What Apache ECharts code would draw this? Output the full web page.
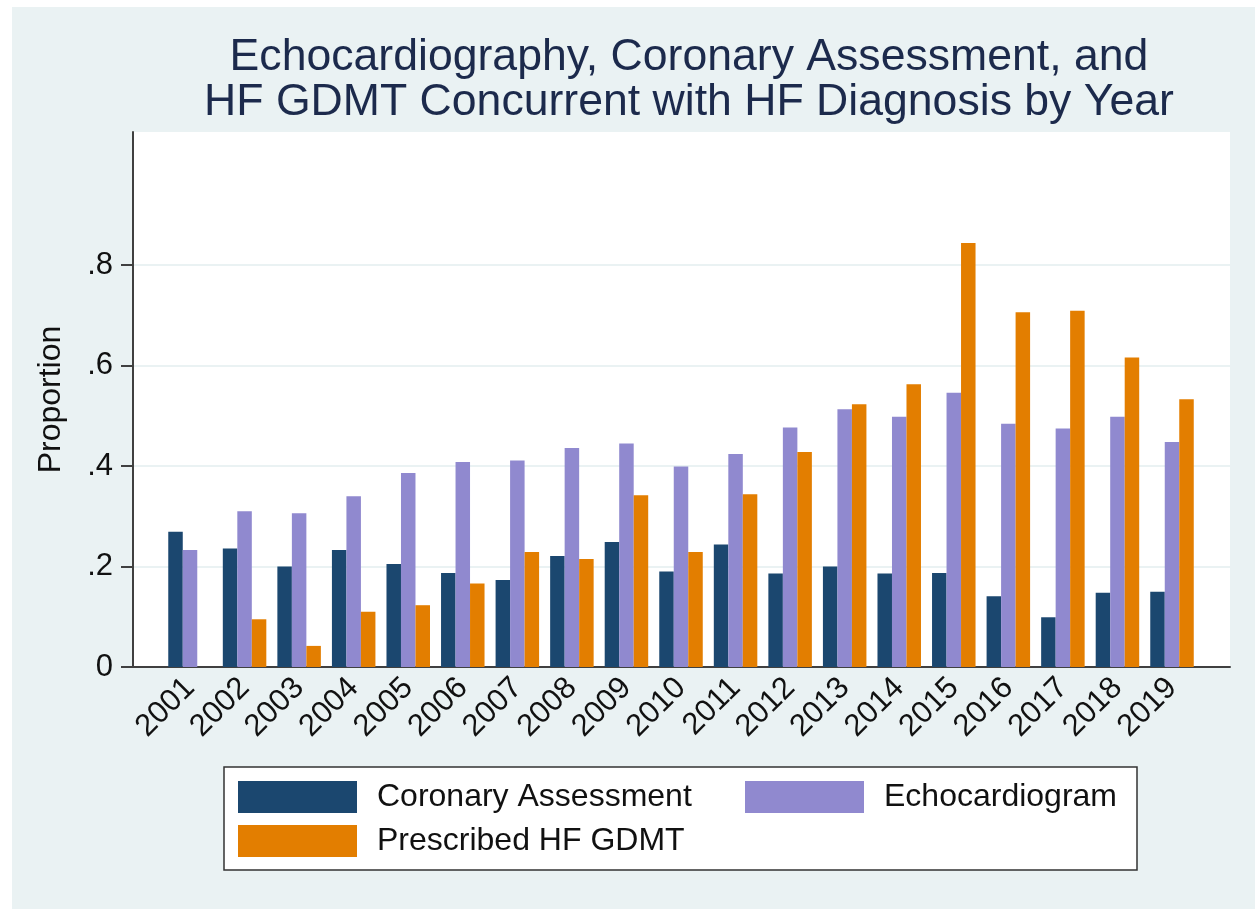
<!DOCTYPE html>
<html>
<head>
<meta charset="utf-8">
<script src="https://cdn.jsdelivr.net/npm/echarts@6/dist/echarts.min.js"></script>
<style>
html, body { margin: 0; padding: 0; background: #fff; }
#bg { position: absolute; left: 12px; top: 7px; width: 1243px; height: 902px; background: #eaf2f3; }
#chart { position: absolute; left: 0; top: 0; width: 1255px; height: 909px; }
</style>
</head>
<body>
<div id="bg"></div>
<div id="chart"></div>
<script>
// values
var years = [2001, 2002, 2003, 2004, 2005, 2006, 2007, 2008, 2009, 2010,
             2011, 2012, 2013, 2014, 2015, 2016, 2017, 2018, 2019]
var coronary = [0.269, 0.236, 0.200, 0.233, 0.205, 0.187, 0.173, 0.221, 0.249, 0.190,
                0.244, 0.186, 0.200, 0.186, 0.187, 0.141, 0.099, 0.148, 0.150]
var echo = [0.233, 0.310, 0.306, 0.340, 0.386, 0.408, 0.411, 0.436, 0.445, 0.399,
            0.424, 0.477, 0.513, 0.498, 0.546, 0.484, 0.475, 0.498, 0.448]
var gdmt = [0, 0.095, 0.042, 0.110, 0.123, 0.166, 0.229, 0.215, 0.342, 0.229,
            0.344, 0.428, 0.523, 0.563, 0.844, 0.706, 0.709, 0.616, 0.533]
var yTicks = [0, 0.2, 0.4, 0.6, 0.8]

var font = "'Liberation Sans', Arial, sans-serif"

function pairs(vals) {
    return years.map(function (y, i) { return [y, vals[i]] })
}

var chart = echarts.init(document.getElementById('chart'))

chart.setOption({
    animation: false,
    textStyle: { fontFamily: font },
    title: {
        text: 'Echocardiography, Coronary Assessment, and\nHF GDMT Concurrent with HF Diagnosis by Year',
        left: 689,
        top: 35,
        padding: 0,
        textAlign: 'center',
        textStyle: { fontSize: 44.6, fontWeight: 'normal', color: '#1c2a4c', lineHeight: 45, fontFamily: font }
    },
    legend: {
        left: 224,
        top: 767,
        width: 940,
        orient: 'horizontal',
        itemGap: 12,
        itemWidth: 119,
        itemHeight: 32,
        icon: 'rect',
        selectedMode: false,
        padding: [14, 20, 13, 14],
        backgroundColor: '#fff',
        borderColor: '#333',
        borderWidth: 1.5,
        // first label gets a wider (white) box so the second column starts where the reference has it
        formatter: function (name) {
            return name === 'Coronary Assessment' ? '{wide|' + name + '}' : name
        },
        textStyle: {
            fontSize: 32,
            color: '#111',
            padding: [0, 0, 0, 15],
            fontFamily: font,
            rich: {
                wide: { width: 356, backgroundColor: '#fff', fontSize: 32, color: '#111', fontFamily: font }
            }
        },
        data: ['Coronary Assessment', 'Echocardiogram', 'Prescribed HF GDMT']
    },
    grid: {
        left: 133,
        top: 132,
        right: 25,
        bottom: 242,
        show: true,
        backgroundColor: '#fff',
        borderWidth: 0
    },
    xAxis: {
        type: 'value',
        min: 1999.955,
        max: 2020.063,
        axisLine: { lineStyle: { color: '#404040', width: 2 } },
        axisTick: { show: false },
        splitLine: { show: false },
        axisLabel: {
            customValues: years,
            rotate: 45,
            margin: 16,
            fontSize: 31,
            color: '#111',
            formatter: function (v) { return String(v) }
        }
    },
    yAxis: {
        type: 'value',
        min: 0,
        max: 1.065,
        interval: 0.2,
        name: 'Proportion',
        nameLocation: 'middle',
        nameGap: 66,
        nameTextStyle: { fontSize: 32, color: '#111' },
        axisLine: { show: true, lineStyle: { color: '#404040', width: 2 } },
        axisTick: { show: true, length: 12, customValues: yTicks, lineStyle: { color: '#404040', width: 2 } },
        axisLabel: {
            customValues: yTicks,
            margin: 20,
            fontSize: 31,
            color: '#111',
            formatter: function (v) { return v === 0 ? '0' : String(+v.toFixed(1)).replace(/^0/, '') }
        },
        splitLine: { show: true, lineStyle: { color: '#eaf2f3', width: 2 } }
    },
    series: [
        { name: 'Coronary Assessment', type: 'bar', barWidth: 14.5, barGap: '0%', itemStyle: { color: '#1b476f' }, data: pairs(coronary) },
        { name: 'Echocardiogram', type: 'bar', barWidth: 14.5, barGap: '0%', itemStyle: { color: '#9089cf' }, data: pairs(echo) },
        { name: 'Prescribed HF GDMT', type: 'bar', barWidth: 14.5, barGap: '0%', itemStyle: { color: '#e37e00' }, data: pairs(gdmt) }
    ]
})
</script>
</body>
</html>
